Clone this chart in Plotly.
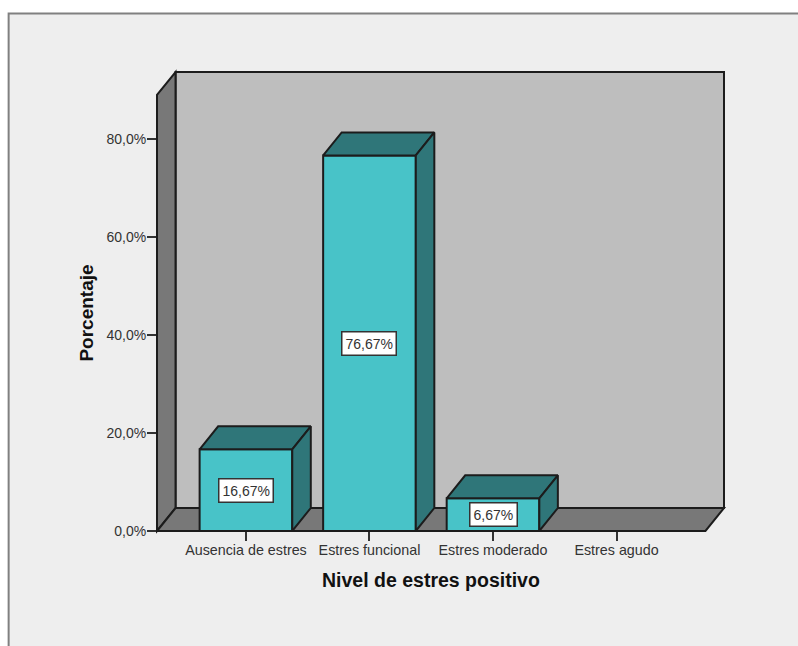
import plotly.graph_objects as go

# Frequency chart of positive stress levels, drawn as 3D-styled bars
categories = ["Ausencia de estres", "Estres funcional", "Estres moderado", "Estres agudo"]
percentages = [16.67, 76.67, 6.67, None]
y_ticks = [0, 20, 40, 60, 80]

FRONT = "#48c3c8"
SHADE = "#2f7679"
WALL = "#bebebe"
SIDE_WALL = "#787878"
PANEL = "#eeeeee"
EDGE = "#1c1c1c"
TEXT = "#333333"
FONT = "Liberation Sans"

WIDTH, HEIGHT = 798, 646
LEFT, RIGHT, TOP, BOTTOM = 157, 724.5, 72, 531

# Axis extents: the front plane spans x_front and y_front, the depth offset shifts to the back plane
BAR_W = 0.75
x_front = (-0.72, 3.72)
depth_x = 0.15
y_front = 89.0
depth_y = 4.69
x_range = [x_front[0], x_front[1] + depth_x]
y_range = [0, y_front + depth_y]

fig = go.Figure()

fig.add_bar(
    x=list(range(len(categories))),
    y=percentages,
    width=BAR_W,
    marker=dict(color=FRONT, line=dict(color=EDGE, width=2)),
    hoverinfo="skip",
)


def face(xs, ys, color):
    fig.add_scatter(
        x=xs, y=ys, mode="lines", fill="toself", fillcolor=color,
        line=dict(color=EDGE, width=2), hoverinfo="skip",
    )


# Top and right faces of each bar, derived from its value
for i, v in enumerate(percentages):
    if v is None:
        continue
    l, r = i - BAR_W / 2, i + BAR_W / 2
    face([l, r, r + depth_x, l + depth_x, l], [v, v, v + depth_y, v + depth_y, v], SHADE)
    face([r, r + depth_x, r + depth_x, r, r], [v, v + depth_y, depth_y, 0, v], SHADE)

annotations = []
for i, v in enumerate(percentages):
    if v is None:
        continue
    annotations.append(dict(
        x=i, y=v / 2, xref="x", yref="y", showarrow=False,
        text=f"{v:.2f}%".replace(".", ","),
        font=dict(family=FONT, size=14, color=TEXT),
        bgcolor="white", bordercolor="#333333", borderwidth=1.5, borderpad=3,
    ))

annotations.append(dict(
    text="Nivel de estres positivo", xref="paper", yref="paper",
    xanchor="center", yanchor="middle",
    x=(431 - LEFT) / (RIGHT - LEFT), y=(BOTTOM - 580) / (BOTTOM - TOP),
    showarrow=False, font=dict(family=FONT, size=19.5, color="#111111", weight="bold"),
))
annotations.append(dict(
    text="Porcentaje", xref="paper", yref="paper", textangle=-90,
    xanchor="center", yanchor="middle",
    x=(85.5 - LEFT) / (RIGHT - LEFT), y=(BOTTOM - 313) / (BOTTOM - TOP),
    showarrow=False, font=dict(family=FONT, size=19, color="#111111", weight="bold"),
))

# Wall and floor proportions on the paper grid
dx = depth_x / (x_range[1] - x_range[0])
dy = depth_y / (y_range[1] - y_range[0])


def poly(points, fill, color=EDGE, width=2):
    path = "M" + " L".join(f"{a},{b}" for a, b in points) + " Z"
    return dict(type="path", path=path, xref="paper", yref="paper", layer="below",
                fillcolor=fill, line=dict(color=color, width=width))


px = lambda v: (v - LEFT) / (RIGHT - LEFT)
py = lambda v: (BOTTOM - v) / (BOTTOM - TOP)

shapes = [
    # outer panel, open past the page edge on the right and bottom
    poly([(px(8.5), py(13.5)), (px(830), py(13.5)), (px(830), py(680)), (px(8.5), py(680))],
         PANEL, "#808080", 2),
    poly([(dx, dy), (1, dy), (1, 1), (dx, 1)], WALL),
    poly([(0, 0), (dx, dy), (dx, 1), (0, 1 - dy)], SIDE_WALL),
    poly([(0, 0), (1 - dx, 0), (1, dy), (dx, dy)], SIDE_WALL),
]

fig.update_layout(
    width=WIDTH, height=HEIGHT,
    margin=dict(l=LEFT, r=WIDTH - RIGHT, t=TOP, b=HEIGHT - BOTTOM, pad=0),
    paper_bgcolor="white", plot_bgcolor="rgba(0,0,0,0)",
    showlegend=False, shapes=shapes, annotations=annotations,
    xaxis=dict(
        range=x_range, tickmode="array", tickvals=list(range(len(categories))),
        ticktext=categories, showgrid=False, zeroline=False, showline=False,
        ticks="outside", ticklen=9, tickwidth=1.5, tickcolor="#333333",
        ticklabelstandoff=-3,
        tickfont=dict(family=FONT, size=14.3, color=TEXT),
    ),
    yaxis=dict(
        range=y_range, tickmode="array", tickvals=y_ticks,
        ticktext=[f"{t},0%" for t in y_ticks], showgrid=False, zeroline=False, showline=False,
        ticks="outside", ticklen=9, tickwidth=1.5, tickcolor="#333333",
        ticklabelstandoff=-2,
        tickfont=dict(family=FONT, size=14, color=TEXT),
    ),
)

fig.write_html("out.html")
